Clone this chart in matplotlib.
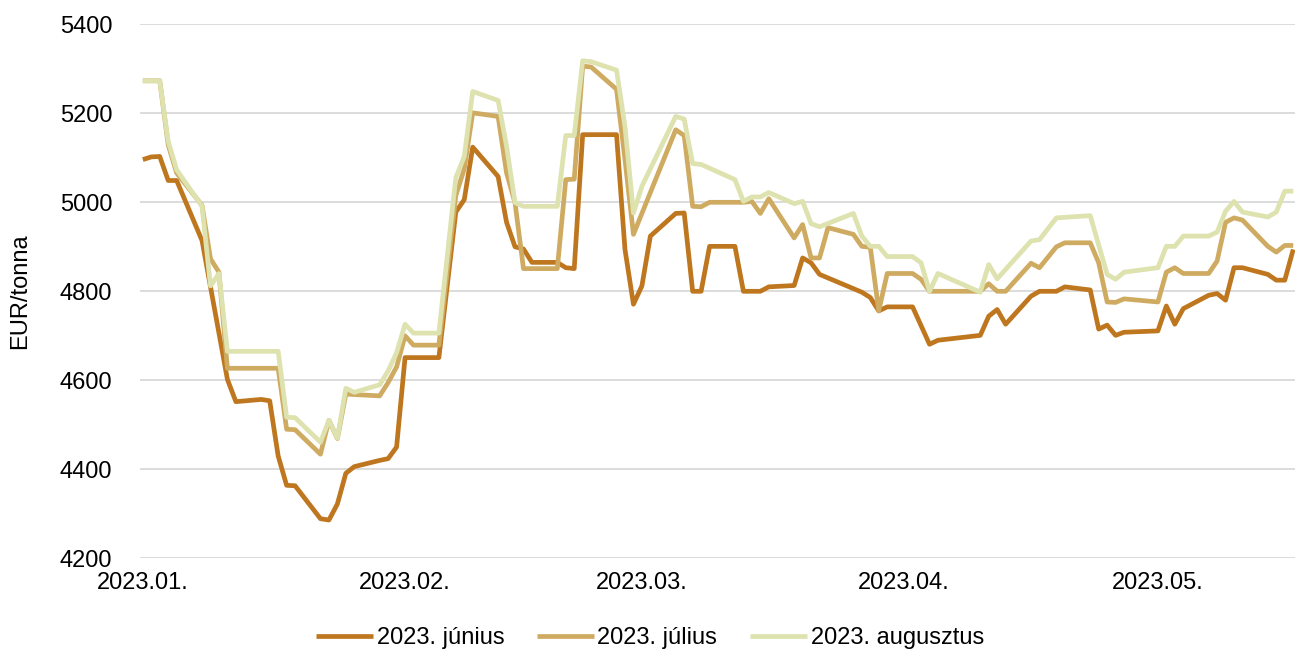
import matplotlib
matplotlib.use("Agg")
import matplotlib.pyplot as plt
import matplotlib.dates as mdates
import pandas as pd

plt.rcParams['font.family'] = ['Liberation Sans', 'DejaVu Sans']

# series: (dates, EUR/tonna)
jun_dates = ["2023-01-02", "2023-01-03", "2023-01-04", "2023-01-05", "2023-01-06",
             "2023-01-09", "2023-01-12", "2023-01-13", "2023-01-16", "2023-01-17",
             "2023-01-18", "2023-01-19", "2023-01-20", "2023-01-23", "2023-01-24",
             "2023-01-25", "2023-01-26", "2023-01-27", "2023-01-30", "2023-01-31",
             "2023-02-01", "2023-02-02", "2023-02-03", "2023-02-06", "2023-02-08",
             "2023-02-09", "2023-02-10", "2023-02-13", "2023-02-14", "2023-02-15",
             "2023-02-16", "2023-02-17", "2023-02-20", "2023-02-21", "2023-02-22",
             "2023-02-23", "2023-02-24", "2023-02-27", "2023-02-28", "2023-03-01",
             "2023-03-02", "2023-03-03", "2023-03-06", "2023-03-07", "2023-03-08",
             "2023-03-09", "2023-03-10", "2023-03-13", "2023-03-14", "2023-03-15",
             "2023-03-16", "2023-03-17", "2023-03-20", "2023-03-21", "2023-03-22",
             "2023-03-23", "2023-03-27", "2023-03-28", "2023-03-29", "2023-03-30",
             "2023-03-31", "2023-04-03", "2023-04-05", "2023-04-06", "2023-04-11",
             "2023-04-12", "2023-04-13", "2023-04-14", "2023-04-17", "2023-04-18",
             "2023-04-20", "2023-04-21", "2023-04-24", "2023-04-25", "2023-04-26",
             "2023-04-27", "2023-04-28", "2023-05-02", "2023-05-03", "2023-05-04",
             "2023-05-05", "2023-05-08", "2023-05-09", "2023-05-10", "2023-05-11",
             "2023-05-12", "2023-05-15", "2023-05-16", "2023-05-17", "2023-05-18"]
jun_values = [5096, 5102, 5103, 5049, 5049,
              4914, 4602, 4552, 4557, 4554,
              4430, 4364, 4363, 4289, 4286,
              4322, 4391, 4406, 4420, 4424,
              4450, 4651, 4651, 4651, 4978,
              5006, 5124, 5058, 4955, 4900,
              4895, 4865, 4865, 4853, 4851,
              5152, 5152, 5152, 4894, 4771,
              4812, 4924, 4975, 4976, 4800,
              4800, 4901, 4901, 4800, 4800,
              4800, 4810, 4813, 4875, 4864,
              4838, 4806, 4798, 4786, 4756,
              4765, 4765, 4681, 4690, 4701,
              4744, 4759, 4726, 4789, 4800,
              4800, 4810, 4803, 4715, 4724,
              4701, 4708, 4711, 4767, 4726,
              4761, 4791, 4795, 4780, 4853,
              4853, 4838, 4825, 4825, 4894]

jul_dates = ["2023-01-02", "2023-01-04", "2023-01-05", "2023-01-06", "2023-01-09",
             "2023-01-10", "2023-01-11", "2023-01-12", "2023-01-18", "2023-01-19",
             "2023-01-20", "2023-01-23", "2023-01-24", "2023-01-25", "2023-01-26",
             "2023-01-30", "2023-01-31", "2023-02-01", "2023-02-02", "2023-02-03",
             "2023-02-06", "2023-02-08", "2023-02-09", "2023-02-10", "2023-02-13",
             "2023-02-14", "2023-02-15", "2023-02-16", "2023-02-20", "2023-02-21",
             "2023-02-22", "2023-02-23", "2023-02-24", "2023-02-27", "2023-02-28",
             "2023-03-01", "2023-03-06", "2023-03-07", "2023-03-08", "2023-03-09",
             "2023-03-10", "2023-03-14", "2023-03-15", "2023-03-16", "2023-03-17",
             "2023-03-20", "2023-03-21", "2023-03-22", "2023-03-23", "2023-03-24",
             "2023-03-27", "2023-03-28", "2023-03-29", "2023-03-30", "2023-03-31",
             "2023-04-03", "2023-04-04", "2023-04-05", "2023-04-11", "2023-04-12",
             "2023-04-13", "2023-04-14", "2023-04-17", "2023-04-18", "2023-04-20",
             "2023-04-21", "2023-04-24", "2023-04-25", "2023-04-26", "2023-04-27",
             "2023-04-28", "2023-05-02", "2023-05-03", "2023-05-04", "2023-05-05",
             "2023-05-08", "2023-05-09", "2023-05-10", "2023-05-11", "2023-05-12",
             "2023-05-15", "2023-05-16", "2023-05-17", "2023-05-18"]
jul_values = [5273, 5273, 5129, 5066, 4993,
              4873, 4843, 4627, 4627, 4490,
              4489, 4434, 4510, 4469, 4569,
              4565, 4595, 4630, 4700, 4679,
              4679, 5015, 5075, 5201, 5193,
              5066, 4999, 4851, 4851, 5051,
              5052, 5306, 5304, 5254, 5096,
              4928, 5163, 5150, 4991, 4990,
              5000, 5000, 5002, 4975, 5008,
              4920, 4950, 4875, 4875, 4943,
              4928, 4901, 4899, 4756, 4840,
              4840, 4827, 4800, 4800, 4817,
              4800, 4800, 4863, 4853, 4900,
              4909, 4909, 4864, 4776, 4775,
              4783, 4776, 4843, 4853, 4840,
              4840, 4868, 4955, 4965, 4960,
              4901, 4888, 4903, 4903]

aug_dates = ["2023-01-02", "2023-01-04", "2023-01-05", "2023-01-06", "2023-01-09",
             "2023-01-10", "2023-01-11", "2023-01-12", "2023-01-18", "2023-01-19",
             "2023-01-20", "2023-01-23", "2023-01-24", "2023-01-25", "2023-01-26",
             "2023-01-27", "2023-01-30", "2023-01-31", "2023-02-01", "2023-02-02",
             "2023-02-03", "2023-02-06", "2023-02-08", "2023-02-09", "2023-02-10",
             "2023-02-13", "2023-02-14", "2023-02-15", "2023-02-16", "2023-02-20",
             "2023-02-21", "2023-02-22", "2023-02-23", "2023-02-24", "2023-02-27",
             "2023-02-28", "2023-03-01", "2023-03-02", "2023-03-06", "2023-03-07",
             "2023-03-08", "2023-03-09", "2023-03-13", "2023-03-14", "2023-03-15",
             "2023-03-16", "2023-03-17", "2023-03-20", "2023-03-21", "2023-03-22",
             "2023-03-23", "2023-03-27", "2023-03-28", "2023-03-29", "2023-03-30",
             "2023-03-31", "2023-04-03", "2023-04-04", "2023-04-05", "2023-04-06",
             "2023-04-11", "2023-04-12", "2023-04-13", "2023-04-17", "2023-04-18",
             "2023-04-20", "2023-04-24", "2023-04-26", "2023-04-27", "2023-04-28",
             "2023-05-02", "2023-05-03", "2023-05-04", "2023-05-05", "2023-05-08",
             "2023-05-09", "2023-05-10", "2023-05-11", "2023-05-12", "2023-05-15",
             "2023-05-16", "2023-05-17", "2023-05-18"]
aug_values = [5273, 5273, 5137, 5073, 4991,
              4812, 4840, 4665, 4665, 4517,
              4516, 4461, 4510, 4470, 4582,
              4573, 4590, 4621, 4662, 4726,
              4706, 4706, 5055, 5103, 5249,
              5229, 5126, 4999, 4991, 4991,
              5150, 5150, 5318, 5316, 5297,
              5170, 4976, 5036, 5193, 5187,
              5087, 5085, 5051, 5002, 5012,
              5012, 5022, 4997, 5002, 4952,
              4945, 4975, 4924, 4901, 4901,
              4878, 4878, 4864, 4800, 4840,
              4798, 4860, 4828, 4913, 4916,
              4965, 4970, 4838, 4827, 4843,
              4853, 4901, 4901, 4924, 4924,
              4933, 4980, 5002, 4978, 4967,
              4978, 5025, 5025]

series_names = ["2023. június", "2023. július", "2023. augusztus"]
series_colors = ["#BF771F", "#CFAB62", "#DDE2AE"]
tick_dates = ["2023-01-02", "2023-02-02", "2023-03-02", "2023-04-02", "2023-05-02"]

fig = plt.figure(figsize=(12.95, 6.5), dpi=100)
ax = fig.add_axes([140 / 1295, 1 - 558.3 / 650, 1155 / 1295, 534 / 650])

all_series = [(jun_dates, jun_values), (jul_dates, jul_values), (aug_dates, aug_values)]
for (d, v), name, col in zip(all_series, series_names, series_colors):
    ax.plot(pd.to_datetime(d), v, color=col, lw=3.4, label=name,
            solid_joinstyle='round', solid_capstyle='butt')

start = pd.Timestamp("2023-01-02")
end = pd.Timestamp("2023-05-18")
ax.set_xlim(start - pd.Timedelta(hours=8), end + pd.Timedelta(hours=5))
ax.set_ylim(4200, 5400)
ax.set_yticks(range(4200, 5401, 200))
ax.set_xticks(pd.to_datetime(tick_dates))
ax.xaxis.set_major_formatter(mdates.DateFormatter("%Y.%m."))

ax.grid(axis='y', color='#D9D9D9', lw=1.3)
ax.set_axisbelow(True)
for s in ax.spines.values():
    s.set_visible(False)
ax.tick_params(axis='both', length=0, labelsize=17, colors='black')
ax.tick_params(axis='y', pad=20)
ax.tick_params(axis='x', pad=10)

# y axis title placed in figure coords so it is not clipped
fig.text(20 / 1295, 1 - 291 / 650, "EUR/tonna", rotation=90, fontsize=17,
         ha='center', va='center')

fig.legend(loc='center', bbox_to_anchor=(0.502, 0.018), ncol=3, frameon=False,
           fontsize=17, handlelength=2.4, handletextpad=0.15, columnspacing=1.4)

fig.savefig("out.png", dpi=100)
